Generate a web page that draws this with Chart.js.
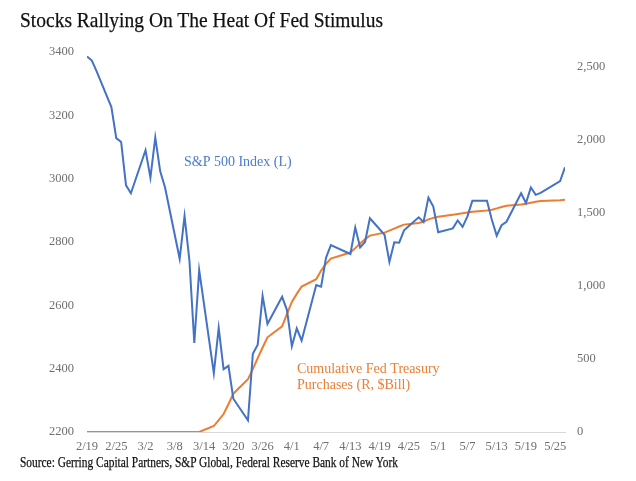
<!DOCTYPE html>
<html>
<head>
<meta charset="utf-8">
<script src="https://cdn.jsdelivr.net/npm/chart.js@4/dist/chart.umd.min.js"></script>
<style>
  html, body { margin: 0; padding: 0; background: #fff; width: 636px; height: 481px; overflow: hidden; }
  #wrap { position: relative; width: 636px; height: 481px; }
  #c { position: absolute; left: 0; top: 0; }
  .txt { position: absolute; white-space: nowrap; font-family: "Liberation Serif", "DejaVu Serif", serif; color: #111; transform-origin: 0 0; -webkit-text-stroke: 0.25px #111; }
  #title { left: 20px; top: 7px; font-size: 22px; }
  #source { left: 20px; top: 454px; font-size: 15px; }
</style>
</head>
<body>
<div id="wrap">
  <canvas id="c" width="636" height="481"></canvas>
  <div id="title" class="txt">Stocks Rallying On The Heat Of Fed Stimulus</div>
  <div id="source" class="txt">Source: Gerring Capital Partners, S&amp;P Global, Federal Reserve Bank of New York</div>
</div>
<script>
// ---- Data (trading days, 2020) ----
const dates = ['2/19','2/20','2/21','2/24','2/25','2/26','2/27','2/28',
  '3/2','3/3','3/4','3/5','3/6','3/9','3/10','3/11','3/12','3/13','3/16','3/17','3/18','3/19','3/20',
  '3/23','3/24','3/25','3/26','3/27','3/30','3/31',
  '4/1','4/2','4/3','4/6','4/7','4/8','4/9','4/13','4/14','4/15','4/16','4/17','4/20','4/21','4/22','4/23','4/24',
  '4/27','4/28','4/29','4/30',
  '5/1','5/4','5/5','5/6','5/7','5/8','5/11','5/12','5/13','5/14','5/15','5/18','5/19','5/20','5/21','5/22','5/26','5/27'];

const sp500 = [3386,3373,3338,3226,3128,3116,2979,2954,
  3090,3003,3130,3024,2972,2747,2882,2741,2481,2711,2386,2529,2398,2409,2305,
  2237,2447,2476,2630,2541,2627,2585,
  2471,2527,2489,2664,2659,2750,2790,2762,2846,2783,2800,2875,2823,2737,2799,2798,2837,
  2878,2863,2940,2912,
  2831,2843,2868,2848,2881,2930,2930,2870,2820,2853,2864,2954,2923,2972,2949,2955,2992,3036];

const fedPurchases = [0,0,0,0,0,0,0,0,
  0,0,0,0,0,0,0,0,0,0,41,82,123,190,262,
  361,430,505,578,648,723,808,
  890,945,995,1045,1105,1150,1187,1228,1258,1290,1318,1344,1364,1378,1392,1406,1419,
  1430,1439,1455,1465,
  1473,1487,1492,1497,1502,1507,1515,1521,1530,1540,1548,1556,1562,1569,1575,1580,1585,1589];

const xTickLabels = ['2/19','2/25','3/2','3/8','3/14','3/20','3/26','4/1','4/7','4/13','4/19','4/25','5/1','5/7','5/13','5/19','5/25'];
const leftTicks = [2200,2400,2600,2800,3000,3200,3400];
const rightTicks = [0,500,1000,1500,2000,2500];

const seriesLabels = { sp: 'S&P 500 Index (L)', fed1: 'Cumulative Fed Treasury', fed2: 'Purchases (R, $Bill)' };

// ---- helpers ----
const YEAR = 2020;
function dayOffset(md) {
  const [m, d] = md.split('/').map(Number);
  const t0 = Date.UTC(YEAR, 1, 19);
  return Math.round((Date.UTC(YEAR, m - 1, d) - t0) / 86400000);
}
const xs = dates.map(dayOffset);
const xTickVals = xTickLabels.map(dayOffset);
const labelByDay = {};
xTickLabels.forEach((l, i) => labelByDay[xTickVals[i]] = l);

const BLUE = '#4472C4';
const ORANGE = '#ED7D31';
const TICK_FONT = { family: '"Liberation Serif", "DejaVu Serif", serif', size: 12.5 };

const annot = {
  id: 'annot',
  afterDatasetsDraw(chart) {
    const ctx = chart.ctx;
    ctx.save();
    ctx.font = '14px "Liberation Serif", "DejaVu Serif", serif';
    ctx.textBaseline = 'middle';
    ctx.textAlign = 'left';
    ctx.fillStyle = '#4a7bd0';
    ctx.fillText(seriesLabels.sp, 184, 162);
    ctx.fillStyle = ORANGE;
    ctx.fillText(seriesLabels.fed1, 297, 369);
    ctx.fillText(seriesLabels.fed2, 297, 385);
    ctx.restore();
  }
};

new Chart(document.getElementById('c'), {
  type: 'line',
  data: {
    datasets: [
      { label: seriesLabels.sp, data: xs.map((x, i) => ({ x, y: sp500[i] })), yAxisID: 'yL',
        borderColor: BLUE, borderWidth: 2, pointRadius: 0, tension: 0, fill: false },
      { label: 'Cumulative Fed Treasury Purchases (R, $Bill)', data: xs.map((x, i) => ({ x, y: fedPurchases[i] })), yAxisID: 'yR',
        borderColor: ORANGE, borderWidth: 2, pointRadius: 0, tension: 0, fill: false }
    ]
  },
  options: {
    responsive: false,
    animation: false,
    devicePixelRatio: 1,
    layout: { padding: { top: 52, left: 0, right: 0, bottom: 0 } },
    plugins: { legend: { display: false }, tooltip: { enabled: false }, title: { display: false } },
    scales: {
      x: {
        type: 'linear', min: 0, max: 98,
        grid: { display: false, drawTicks: false },
        border: { display: true, color: '#d9d9d9', width: 1 },
        afterBuildTicks: s => { s.ticks = xTickVals.map(v => ({ value: v })); },
        afterFit: s => { s.height = 49; },
        ticks: { autoSkip: false, maxRotation: 0, padding: 7, color: '#6f6f6f', font: TICK_FONT,
          callback: v => labelByDay[v] ?? '' }
      },
      yL: {
        type: 'linear', position: 'left', min: 2200, max: 3400,
        grid: { display: false, drawTicks: false },
        border: { display: false },
        afterBuildTicks: s => { s.ticks = leftTicks.map(v => ({ value: v })); },
        afterFit: s => { s.width = 87; },
        ticks: { padding: 13, color: '#6f6f6f', font: TICK_FONT, callback: v => String(v) }
      },
      yR: {
        type: 'linear', position: 'right', min: 0, max: 2600,
        grid: { display: false, drawTicks: false },
        border: { display: false },
        afterBuildTicks: s => { s.ticks = rightTicks.map(v => ({ value: v })); },
        afterFit: s => { s.width = 71; },
        ticks: { padding: 12, color: '#6f6f6f', font: TICK_FONT, callback: v => v.toLocaleString('en-US') }
      }
    }
  },
  plugins: [annot]
});

// condense HTML text to the reference widths
function fitWidth(id, target) {
  const el = document.getElementById(id);
  const w = el.getBoundingClientRect().width;
  if (w > 0) el.style.transform = 'scaleX(' + (target / w) + ')';
}
fitWidth('title', 363);
fitWidth('source', 378);
</script>
</body>
</html>
